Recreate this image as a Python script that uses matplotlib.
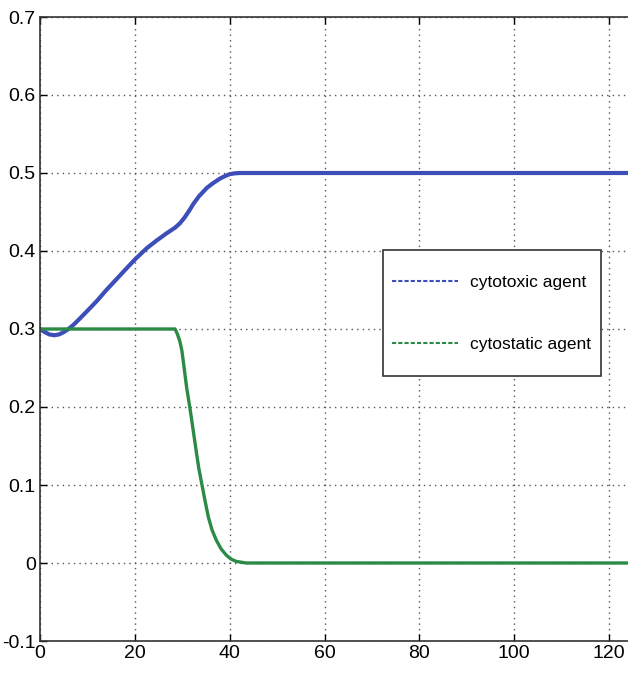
import matplotlib
matplotlib.use("Agg")
import matplotlib.pyplot as plt
import numpy as np
from matplotlib.lines import Line2D
from matplotlib.legend_handler import HandlerLine2D

plt.rcParams['font.family'] = ['Liberation Sans', 'DejaVu Sans']

# cytotoxic agent (blue)
t_toxic = [0, 1, 2, 3, 4, 5, 6, 7, 8.5, 10.5, 12, 14, 16, 17.6, 20, 22.5,
           24.5, 26.7, 28.5, 29.5, 30.5, 31.5, 32.3, 33.5, 35.2, 36.5, 38,
           39, 40, 41, 42.1, 50, 80, 124]
y_toxic = [0.300, 0.296, 0.293, 0.292, 0.293, 0.296, 0.300, 0.305, 0.314, 0.3265,
           0.336, 0.350, 0.363, 0.3735, 0.389, 0.4035, 0.413, 0.4227, 0.430, 0.4355,
           0.443, 0.452, 0.460, 0.470, 0.481, 0.487, 0.493, 0.496, 0.4985, 0.4995,
           0.500, 0.500, 0.500, 0.500]

# cytostatic agent (green)
t_static = [0, 10, 20, 28.5, 29.0, 29.5, 29.9, 30.4, 30.9, 31.5, 32.0, 32.5,
            33.0, 33.5, 34.1, 34.8, 35.5, 36.3, 37.2, 38.2, 39.3, 40.3, 41.4,
            43.5, 60, 90, 124]
y_static = [0.300, 0.300, 0.300, 0.300, 0.293, 0.284, 0.273, 0.250, 0.226, 0.203,
            0.183, 0.162, 0.141, 0.121, 0.102, 0.080, 0.059, 0.042, 0.029, 0.018,
            0.010, 0.005, 0.002, 0.000, 0.000, 0.000, 0.000]

x_ticks = [0, 20, 40, 60, 80, 100, 120]
y_ticks = [-0.1, 0, 0.1, 0.2, 0.3, 0.4, 0.5, 0.6, 0.7]
y_labels = ['-0.1', '0', '0.1', '0.2', '0.3', '0.4', '0.5', '0.6', '0.7']

blue = '#3c4fb8'
green = '#2a8a46'


class LowLine(HandlerLine2D):
    # tall legend rows put the sample line too high; drop it to the text middle
    def create_artists(self, legend, orig_handle, xdescent, ydescent,
                       width, height, fontsize, trans):
        arts = super().create_artists(legend, orig_handle, xdescent, ydescent,
                                      width, height, fontsize, trans)
        for a in arts:
            a.set_ydata(np.asarray(a.get_ydata()) - 0.45 * fontsize)
        return arts


fig = plt.figure(figsize=(6.28, 6.73), dpi=100)
ax = fig.add_axes([40 / 628, 32 / 673, 588 / 628, 624 / 673])

ax.plot(t_toxic, y_toxic, color=blue, lw=3.0, solid_capstyle='round')
ax.plot(t_static, y_static, color=green, lw=2.4, solid_capstyle='round')

ax.set_xlim(0, 124)
ax.set_ylim(-0.1, 0.7)
ax.set_xticks(x_ticks)
ax.set_yticks(y_ticks)
ax.set_yticklabels(y_labels)
ax.grid(True, color='#555555', linestyle=(0, (1, 3)), linewidth=1.0)
ax.tick_params(direction='in', length=5, width=1, top=True, right=False,
               labelsize=14, pad=3)
ax.spines['right'].set_visible(False)
for s in ['left', 'bottom', 'top']:
    ax.spines[s].set_linewidth(1.2)
    ax.spines[s].set_color('#333333')

handles = [Line2D([], [], color=blue, lw=1.5, linestyle=(0, (2, 1))),
           Line2D([], [], color=green, lw=1.5, linestyle=(0, (2, 1)))]
leg = ax.legend(handles, ['cytotoxic agent', 'cytostatic agent'],
                handler_map={Line2D: LowLine()},
                loc='upper left', bbox_to_anchor=(0.583, 0.627, 0.371, 0.0),
                mode='expand', borderaxespad=0, fontsize=12.5,
                handlelength=3.8, handleheight=3.6, borderpad=0.55,
                labelspacing=1.0, handletextpad=0.7, fancybox=False,
                edgecolor='#333333', framealpha=1)
leg.get_frame().set_linewidth(1.2)

fig.savefig('out.png', dpi=100)
